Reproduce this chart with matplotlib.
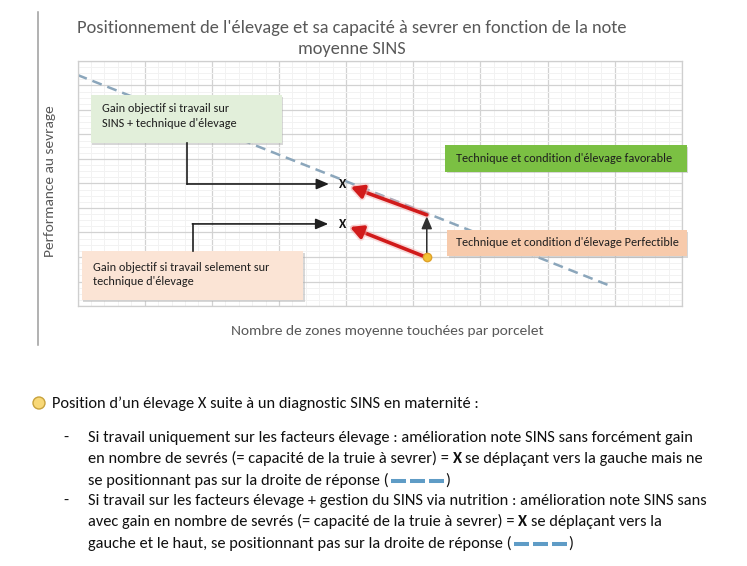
import matplotlib
matplotlib.use('Agg')
import matplotlib.pyplot as plt
from matplotlib.patches import Rectangle, FancyArrowPatch, Circle
from matplotlib.ticker import MultipleLocator
from matplotlib import font_manager as fm
import matplotlib.patheffects as pe

names = {f.name for f in fm.fontManager.ttflist}
FONT = 'Carlito' if 'Carlito' in names else 'Lato'
plt.rcParams['font.family'] = [FONT, 'DejaVu Sans']

# ---------------- data ----------------
title_lines = ["Positionnement de l'élevage et sa capacité à sevrer en fonction de la note",
               "moyenne SINS"]
x_label = "Nombre de zones moyenne touchées par porcelet"
y_label = "Performance au sevrage"

response_x = [0.0, 7.97]          # droite de réponse (dashed)
response_y = [9.43, 0.78]
farm_xy = [5.20, 1.98]            # position initiale de l'élevage (yellow dot)
line_xy = [5.20, 3.72]            # même note SINS, sur la droite de réponse
sins_tech_xy = [3.95, 4.98]       # X : travail SINS + technique d'élevage
tech_only_xy = [3.94, 3.35]       # X : travail seulement technique d'élevage

box_sins_text = "Gain objectif si travail sur\nSINS + technique d'élevage"
box_tech_text = "Gain objectif si travail selement sur\ntechnique d'élevage"
box_fav_text = "Technique et condition d'élevage favorable"
box_perf_text = "Technique et condition d'élevage Perfectible"

note_head = "Position d\u2019un élevage X suite à un diagnostic SINS en maternité :"
# each row: list of (text, weight, space_before); 'DASH' marks the legend dash
note_rows = [
    [("Si travail uniquement sur les facteurs élevage : amélioration note SINS sans forcément gain", 'normal', False)],
    [("en nombre de sevrés (= capacité de la truie à sevrer) =", 'normal', False), ("X", 'bold', True),
     ("se déplaçant vers la gauche mais ne", 'normal', True)],
    [("se positionnant pas sur la droite de réponse (", 'normal', False), ("DASH", None, False), (")", 'normal', False)],
    [("Si travail sur les facteurs élevage + gestion du SINS via nutrition : amélioration note SINS sans", 'normal', False)],
    [("avec gain en nombre de sevrés (= capacité de la truie à sevrer) =", 'normal', False), ("X", 'bold', True),
     ("se déplaçant vers la", 'normal', True)],
    [("gauche et le haut, se positionnant pas sur la droite de réponse (", 'normal', False), ("DASH", None, False),
     (")", 'normal', False)],
]
note_bullets = [True, False, False, True, False, False]

# ---------------- layout ----------------
W, H = 747, 566
fig = plt.figure(figsize=(W / 100, H / 100), dpi=100)
page = fig.add_axes([0, 0, 1, 1])
page.set_xlim(0, W)
page.set_ylim(H, 0)
page.axis('off')

L, R, T, B = 77.5, 682, 61, 306
ax = fig.add_axes([L / W, 1 - B / H, (R - L) / W, (B - T) / H])
ax.set_xlim(0, 9)
ax.set_ylim(0, 10)
ax.xaxis.set_major_locator(MultipleLocator(1))
ax.xaxis.set_minor_locator(MultipleLocator(0.2))
ax.yaxis.set_major_locator(MultipleLocator(1))
ax.yaxis.set_minor_locator(MultipleLocator(0.25))
ax.grid(which='minor', color='#f2f2f2', lw=0.7)
ax.grid(which='major', color='#d2d2d2', lw=0.9)
ax.tick_params(which='both', length=0, labelbottom=False, labelleft=False)
for s in ax.spines.values():
    s.set_color('#cfcfcf')
    s.set_linewidth(0.9)
ax.set_axisbelow(True)

rend = fig.canvas.get_renderer()


def width_px(s, size, weight='normal'):
    t = page.text(0, 0, s, fontsize=size, fontweight=weight)
    w = t.get_window_extent(renderer=rend).width
    t.remove()
    return w


def fit(s, target, weight='normal'):
    return 10 * target / width_px(s, 10, weight)


# frame line on the left
page.plot([38, 38], [12, 345], color='#9c9c9c', lw=1.1)

# title
ts = fit(title_lines[0], 552)
page.text(352, 28, title_lines[0], fontsize=ts, color='#595959', ha='center', va='center')
page.text(352, 49, title_lines[1], fontsize=ts, color='#595959', ha='center', va='center')

# axis labels
xs = fit(x_label, 314)
page.text(387, 331, x_label, fontsize=xs, color='#595959', ha='center', va='center')
page.text(50, 181, y_label, fontsize=xs, color='#595959', ha='center', va='center', rotation=90)

# response line
ln, = ax.plot(response_x, response_y, color='#8ba6bb', lw=1.8, zorder=2)
ln.set_dashes((4.0, 2.4))

# boxes
shadow = [pe.SimplePatchShadow(offset=(1.2, -1.2), shadow_rgbFace='#b0b0b0', alpha=0.5), pe.Normal()]


def box(x0, y0, x1, y1, fc):
    ax.add_patch(Rectangle((x0, y0), x1 - x0, y1 - y0, fc=fc, ec='none', zorder=3,
                           clip_on=False, path_effects=shadow))


bs = fit(box_fav_text, 216)
box(0.197, 6.64, 3.04, 8.61, '#e2efda')
ax.text(0.36, 7.74, box_sins_text, fontsize=bs, color='#1e1e1e', ha='left', va='center',
        linespacing=1.45, zorder=4)
box(0.063, 0.245, 3.357, 2.245, '#fbe4d5')
ax.text(0.226, 1.29, box_tech_text, fontsize=bs, color='#1e1e1e', ha='left', va='center',
        linespacing=1.35, zorder=4)
box(5.47, 5.48, 9.07, 6.57, '#7bc043')
ax.text(5.64, 6.03, box_fav_text, fontsize=bs, color='#1e1e1e', ha='left', va='center', zorder=4,
        clip_on=False)
box(5.50, 2.04, 9.07, 3.10, '#f7caab')
ax.text(5.64, 2.58, box_perf_text, fontsize=bs, color='#1e1e1e', ha='left', va='center', zorder=4,
        clip_on=False)

# black connectors from boxes to X
for cx, y_start, tgt in [(1.635, 6.64, sins_tech_xy), (1.715, 2.245, tech_only_xy)]:
    ax.plot([cx, cx], [y_start, tgt[1]], color='#1f1f1f', lw=1.2, zorder=5, solid_joinstyle='miter')
    ax.add_patch(FancyArrowPatch((cx - 0.005, tgt[1]), tuple(tgt),
                                 arrowstyle='-|>,head_length=0.75,head_width=0.32', mutation_scale=10,
                                 color='#1f1f1f', lw=1.2, shrinkA=0, shrinkB=10, zorder=5))

# vertical black arrow (farm -> response line)
ax.add_patch(FancyArrowPatch(tuple(farm_xy), tuple(line_xy),
                             arrowstyle='-|>,head_length=0.75,head_width=0.32', mutation_scale=10,
                             color='#303030', lw=1.1, shrinkA=2, shrinkB=1, zorder=5))

# red arrows (soft glow underneath)
glow = [pe.Stroke(linewidth=5.0, foreground='#f4b0b0', alpha=0.45), pe.Normal()]
for p0, p1 in [(line_xy, sins_tech_xy), (farm_xy, tech_only_xy)]:
    ax.add_patch(FancyArrowPatch(tuple(p0), tuple(p1),
                                 arrowstyle='-|>,head_length=0.75,head_width=0.4', mutation_scale=10,
                                 color='#d11a1a', lw=2.6, shrinkA=0, shrinkB=6, zorder=6,
                                 path_effects=glow))

# X markers
for p in [sins_tech_xy, tech_only_xy]:
    ax.text(p[0], p[1], 'X', fontsize=9.5, fontweight='bold', color='#111111', ha='center',
            va='center', zorder=7)

# farm position (yellow dot)
ax.plot([farm_xy[0]], [farm_xy[1]], 'o', ms=6, mfc='#f3c234', mec='#dfa12a', mew=1.0, zorder=8)

# ---------------- notes below ----------------
ns = fit(note_rows[0][0][0], 609)
npx = ns * 100 / 72
page.add_patch(Circle((39, 403), 6, fc='#f8d877', ec='#c8a23c', lw=1.0))
page.text(52, 403 + 0.3 * npx, note_head, fontsize=ns, color='#111111', ha='left', va='baseline')

row_y = [437, 458, 480, 500, 521, 543]
space = width_px('a a', ns) - width_px('aa', ns)
for yc, row, bullet in zip(row_y, note_rows, note_bullets):
    yb = yc + 0.3 * npx
    if bullet:
        page.text(66, yb, '-', fontsize=ns, color='#111111', ha='center', va='baseline')
    x = 88.0
    for txt, wt, sp in row:
        if sp:
            x += space
        if txt == 'DASH':
            x += 2
            for k in range(3):
                page.plot([x + k * 19, x + k * 19 + 15], [yc + 1, yc + 1], color='#5f9cc6', lw=2.9,
                          solid_capstyle='butt')
            x += 3 * 19 - 4 + 2
            continue
        t = page.text(x, yb, txt, fontsize=ns, fontweight=wt, color='#111111', ha='left', va='baseline')
        x += t.get_window_extent(renderer=rend).width

fig.savefig('out.png', dpi=100)
